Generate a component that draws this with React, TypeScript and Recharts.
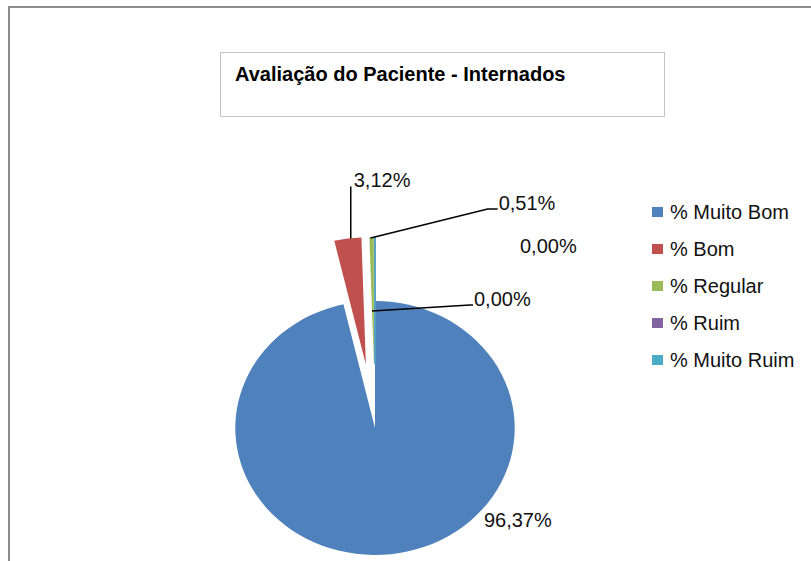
import React from 'react';
import { PieChart, Pie, Cell, Legend, Sector } from 'recharts';

const categories = ['% Muito Bom', '% Bom', '% Regular', '% Ruim', '% Muito Ruim'];
const values = [96.37, 3.12, 0.51, 0.0, 0.0];
const colors = ['#4F81BD', '#C0504D', '#9BBB59', '#8064A2', '#4BACC6'];
const explode = [0, 64, 64, 64, 64];
const title = 'Avaliação do Paciente - Internados';

// label placement relative to the outer mid-point of each (exploded) slice
const labelLayout: { tx: number; ty: number; line: number[][] }[] = [
  { tx: 93, ty: -27, line: [] },
  { tx: 6, ty: -52, line: [[3, 0], [3, -52]] },
  { tx: 127, ty: -27, line: [[-1, 1], [116, -28], [126, -28]] },
  { tx: 145, ty: 16, line: [] },
  { tx: 99, ty: 69, line: [[-3, 74], [95, 68], [98, 68]] },
];

const data = categories.map((name, i) => ({ name, value: values[i] }));

const SX = 1.1;
const RAD = Math.PI / 180;
const FONT = '"Liberation Sans", Arial, sans-serif';

const fmt = (v: number) => v.toFixed(2).replace('.', ',') + '%';

const renderSlice = (props: any) => {
  const { cx, cy, outerRadius, startAngle, endAngle, midAngle, fill, index } = props;
  const d = explode[index] || 0;
  const tx = d * Math.cos(-midAngle * RAD);
  const ty = d * Math.sin(-midAngle * RAD);
  const transform = `translate(${cx} ${cy}) scale(${SX} 1) translate(${tx} ${ty}) translate(${-cx} ${-cy})`;
  if (Math.abs(endAngle - startAngle) < 1e-6) {
    const x2 = cx + outerRadius * Math.cos(-startAngle * RAD);
    const y2 = cy + outerRadius * Math.sin(-startAngle * RAD);
    return (
      <g transform={transform}>
        <line x1={cx} y1={cy} x2={x2} y2={y2} stroke={fill} strokeWidth={1.5} />
      </g>
    );
  }
  return (
    <g transform={transform}>
      <Sector
        cx={cx}
        cy={cy}
        innerRadius={0}
        outerRadius={outerRadius}
        startAngle={startAngle}
        endAngle={endAngle}
        fill={fill}
        stroke="none"
      />
    </g>
  );
};

const renderLabel = (props: any) => {
  const { cx, cy, midAngle, outerRadius, index, value } = props;
  const r = outerRadius + (explode[index] || 0);
  const ax = cx + SX * r * Math.cos(-midAngle * RAD);
  const ay = cy + r * Math.sin(-midAngle * RAD);
  const lay = labelLayout[index];
  const pts = lay.line.map(([x, y]) => `${ax + x},${ay + y}`).join(' ');
  return (
    <g key={`lbl-${index}`}>
      {lay.line.length > 0 && (
        <polyline points={pts} fill="none" stroke="#000" strokeWidth={1.5} />
      )}
      <text
        x={ax + lay.tx}
        y={ay + lay.ty}
        fill="#111"
        fontSize={20}
        fontFamily={FONT}
        textAnchor="start"
      >
        {fmt(value)}
      </text>
    </g>
  );
};

const renderLegend = () => (
  <div style={{ fontFamily: FONT, fontSize: 20, color: '#111' }}>
    {categories.map((c, i) => (
      <div key={c} style={{ height: 37, display: 'flex', alignItems: 'center', whiteSpace: 'nowrap' }}>
        <span
          style={{ display: 'inline-block', width: 11, height: 10, background: colors[i], marginRight: 7 }}
        />
        <span>{c}</span>
      </div>
    ))}
  </div>
);

export default function App() {
  return (
    <div
      style={{
        position: 'absolute',
        left: 0,
        top: 0,
        width: 811,
        height: 561,
        overflow: 'hidden',
        background: '#fff',
      }}
    >
      <div
        style={{
          position: 'absolute',
          left: 8,
          top: 6,
          width: 900,
          height: 700,
          borderLeft: '2px solid #8c8c8c',
          borderTop: '2px solid #8c8c8c',
        }}
      />
      <div
        style={{
          position: 'absolute',
          left: 220,
          top: 52,
          width: 443,
          height: 63,
          border: '1px solid #c4c4c4',
          fontFamily: FONT,
          fontWeight: 'bold',
          fontSize: 20,
          color: '#000',
        }}
      >
        <div style={{ position: 'absolute', left: 14, top: 10, whiteSpace: 'nowrap' }}>{title}</div>
      </div>
      <div style={{ position: 'absolute', left: 0, top: 0 }}>
        <PieChart width={811} height={561} margin={{ top: 0, right: 0, bottom: 0, left: 0 }}>
          <Pie
            data={data}
            dataKey="value"
            nameKey="name"
            cx={375}
            cy={428}
            outerRadius={127}
            startAngle={90}
            endAngle={-270}
            stroke="none"
            shape={renderSlice}
            label={renderLabel}
            labelLine={false}
            isAnimationActive={false}
          >
            {data.map((_, i) => (
              <Cell key={i} fill={colors[i]} />
            ))}
          </Pie>
          <Legend
            layout="vertical"
            align="right"
            verticalAlign="top"
            content={renderLegend}
            wrapperStyle={{ position: 'absolute', left: 652, top: 193.5, width: 160 }}
          />
        </PieChart>
      </div>
    </div>
  );
}
